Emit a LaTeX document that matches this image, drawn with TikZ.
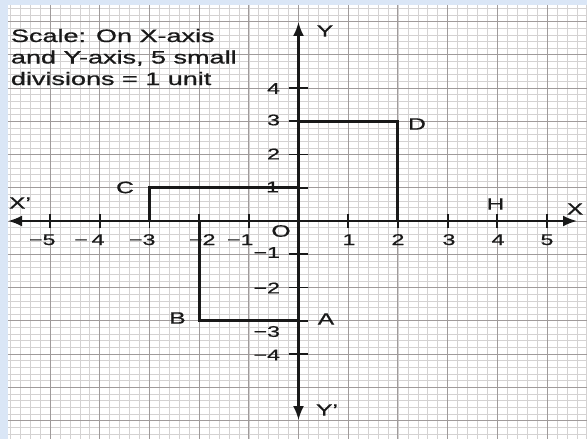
\documentclass[tikz,border=0pt]{standalone}
\usepackage{fontspec}
\setmainfont{Liberation Sans}[FakeBold=0.6]
\usetikzlibrary{arrows.meta}
\definecolor{frameblue}{RGB}{218,230,246}
\definecolor{minorgrid}{RGB}{212,210,210}
\definecolor{majorgrid}{RGB}{160,155,155}
\definecolor{ink}{RGB}{25,25,25}
\begin{document}
\begin{tikzpicture}[x=1pt,y=-1pt,
  minorline/.style={draw=minorgrid,line width=0.55pt},
  majorline/.style={draw=majorgrid,line width=1pt},
  axisline/.style={draw=ink,line width=2.2pt,{Latex[length=14pt,width=11pt]}-{Latex[length=14pt,width=11pt]}},
  shapeline/.style={draw=ink,line width=3pt},
  tickline/.style={draw=ink,line width=1.8pt},
  lab/.style={inner sep=0pt,outer sep=0pt,xscale=1.5,text=ink,font=\fontsize{16.5}{18}\selectfont},
  num/.style={inner sep=0pt,outer sep=0pt,xscale=1.5,text=ink,font=\fontsize{15.5}{17}\selectfont},
  note/.style={inner sep=0pt,outer sep=0pt,xscale=1.5,text=ink,anchor=base west,font=\fontsize{18}{22}\selectfont}]
\useasboundingbox (0,0) rectangle (587,439);
\fill[frameblue] (0,0) rectangle (587,439);
\fill[white] (8,5) rectangle (587,439);
\begin{scope}[shift={(298.5,221)},x=49.7pt,y=33.25pt]
  \begin{scope}
    \clip (-5.845,-6.556) rectangle (5.81,6.496);
    \foreach \i in {-29,...,29} \draw[minorline] (\i/5,-6.7) -- (\i/5,6.6);
    \foreach \j in {-33,...,33} \draw[minorline] (-5.9,\j/5) -- (5.9,\j/5);
    \foreach \i in {-5,...,5} \draw[majorline] (\i,-6.7) -- (\i,6.6);
    \foreach \j in {-6,...,6} \draw[majorline] (-5.9,\j) -- (5.9,\j);
  \end{scope}
  % named points
  \coordinate (O) at (0,0);
  \coordinate (A) at (0,-3);
  \coordinate (B) at (-2,-3);
  \coordinate (C) at (-3,1);
  \coordinate (D) at (2,3);
  \coordinate (Cx) at (-3,0);
  \coordinate (Cy) at (0,1);
  \coordinate (Dx) at (2,0);
  \coordinate (Dy) at (0,3);
  \coordinate (Bx) at (-2,0);
  \coordinate (xl) at (-5.845,0);
  \coordinate (xr) at (5.604,0);
  \coordinate (yt) at (0,5.985);
  \coordinate (yb) at (0,-5.985);
  % ticks
  \foreach \i in {-5,...,-1,1,2,...,5} \draw[tickline] (\i,-0.2) -- (\i,0.2);
  \foreach \j in {-4,...,-1,1,2,...,4} \draw[tickline] (-0.2,\j) -- (0.2,\j);
  % shapes
  \draw[shapeline] (Cx) -- (C) -- (Cy);
  \draw[shapeline] (Dy) -- (D) -- (Dx);
  \draw[shapeline] (Bx) -- (B) -- (A);
  % axes
  \draw[axisline] (xl) -- (xr);
  \draw[axisline] (yb) -- (yt);
\end{scope}
% scale note
\node[note] (n1) at (11,42) {Scale: On X-axis};
\node[note] (n2) at (11,63.5) {and Y-axis, 5 small};
\node[note] (n3) at (11,85) {divisions = 1 unit};
% axis letters
\node[lab] (lY) at (325,31) {Y};
\node[lab] (lYp) at (327,410) {Y’};
\node[lab] (lX) at (575,209) {X};
\node[lab] (lXp) at (20,203) {X’};
\node[lab] (lH) at (495.5,204) {H};
\node[lab] (lO) at (281,231) {O};
\node[lab] (lD) at (417,124) {D};
\node[lab] (lC) at (125,187.5) {C};
\node[lab] (lB) at (177.5,318) {B};
\node[lab] (lA) at (326,319) {A};
% x tick labels
\node[num,anchor=base] (x1) at (349,245) {1};
\node[num,anchor=base] (x2) at (398,245) {2};
\node[num,anchor=base] (x3) at (449,245) {3};
\node[num,anchor=base] (x4) at (498,245) {4};
\node[num,anchor=base] (x5) at (547,245) {5};
\node[num,anchor=base east] (xm5) at (55.5,245) {−5};
\node[num,anchor=base east] (xm4) at (104.5,245) {−\hspace{2.5pt}4};
\node[num,anchor=base east] (xm3) at (155.5,245) {−3};
\node[num,anchor=base east] (xm2) at (215.5,245) {−2};
\node[num,anchor=base east] (xm1) at (253.5,245) {−1};
% y tick labels
\node[num,anchor=east] (y4) at (280,88.5) {4};
\node[num,anchor=east] (y3) at (280,120) {3};
\node[num,anchor=east] (y2) at (280,154) {2};
\node[num,anchor=east] (y1) at (279,187) {1};
\node[num,anchor=east] (ym1) at (280,252.5) {−1};
\node[num,anchor=east] (ym2) at (280,288) {−2};
\node[num,anchor=east] (ym3) at (280,331.5) {−3};
\node[num,anchor=east] (ym4) at (280,355) {−4};
\end{tikzpicture}
\end{document}
